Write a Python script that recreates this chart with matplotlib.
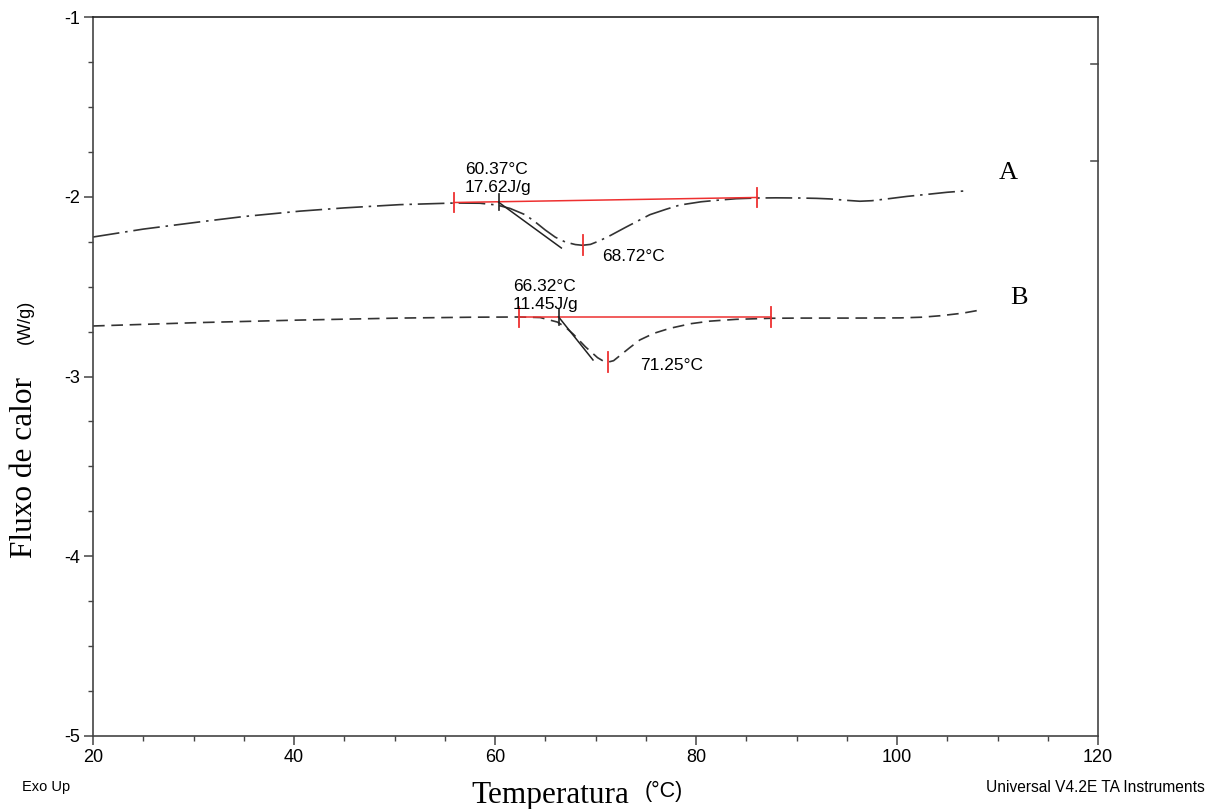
import matplotlib
matplotlib.use("Agg")
import matplotlib.pyplot as plt
from matplotlib.ticker import MultipleLocator

SANS = ["Liberation Sans", "DejaVu Sans"]
SERIF = ["Liberation Serif", "DejaVu Serif"]

# Curve A (dash-dot)
temp_a = [20, 25, 30.6, 35, 40.6, 45, 50.5, 55.9, 58.5, 60.2, 61.5, 63, 64, 65, 66, 67,
          68, 68.7, 69.5, 70.4, 71.5, 73, 74.2, 75.4, 77, 78.4, 80.5, 82.4, 84, 86.1,
          88, 90.3, 92, 93.3, 95, 96.3, 97.5, 99.3, 101, 103.3, 105, 106.9]
flow_a = [-2.224, -2.18, -2.14, -2.11, -2.08, -2.062, -2.044, -2.035, -2.036, -2.046, -2.065, -2.10, -2.14,
          -2.185, -2.225, -2.252, -2.266, -2.27, -2.265, -2.245, -2.215, -2.17, -2.135, -2.10, -2.07,
          -2.046, -2.028, -2.018, -2.011, -2.007, -2.006, -2.007, -2.009, -2.012, -2.02, -2.025,
          -2.022, -2.01, -1.998, -1.985, -1.975, -1.967]

# Curve B (dashed)
temp_b = [20, 30.6, 40.6, 50.5, 58, 62.4, 64.5, 66.2, 67.0, 67.8, 69, 70.2, 70.8, 71.25, 71.8, 72.4,
          73.4, 74.4, 75.8, 77.4, 79.5, 81.4, 84, 87.5, 90.3, 95.3, 100.3, 102.5, 104.3, 106.5, 108.5]
flow_b = [-2.719, -2.70, -2.686, -2.675, -2.670, -2.669, -2.672, -2.697, -2.725, -2.765, -2.835,
          -2.895, -2.915, -2.92, -2.912, -2.885, -2.84, -2.797, -2.76, -2.732, -2.706, -2.692,
          -2.682, -2.676, -2.675, -2.675, -2.674, -2.670, -2.662, -2.648, -2.628]

# Analysis results
onset = [60.37, 66.32]
enthalpy = ["17.62J/g", "11.45J/g"]
peak_t = [68.72, 71.25]
peak_y = [-2.268, -2.918]
base_x = [[55.9, 86.1], [62.4, 87.5]]
base_y = [[-2.032, -2.004], [-2.668, -2.668]]
tangent_x = [[60.37, 66.6], [66.32, 69.75]]
tangent_y = [[-2.031, -2.285], [-2.668, -2.908]]
curve_names = ["A", "B"]

fig = plt.figure(figsize=(12.19, 8.09), dpi=100)
ax = fig.add_axes([93/1219, 1-736/809, (1098-93)/1219, (736-17)/809])

lc = "#333333"
ax.plot(temp_a, flow_a, color=lc, lw=1.2, linestyle=(0, (16, 3.5, 1.5, 3.5)))
ax.plot(temp_b, flow_b, color=lc, lw=1.2, linestyle=(0, (7, 4)))

red = "#ee3030"
tick_h = 0.055
for i in range(2):
    ax.plot(base_x[i], base_y[i], color=red, lw=1.1)
    for bx, by in zip(base_x[i], base_y[i]):
        ax.plot([bx, bx], [by - tick_h, by + tick_h], color=red, lw=1.3)
    ax.plot([peak_t[i], peak_t[i]], [peak_y[i] - tick_h, peak_y[i] + tick_h], color=red, lw=1.3)
    ax.plot(tangent_x[i], tangent_y[i], color="#222222", lw=1.1)
    oy = tangent_y[i][0]
    ax.plot([onset[i], onset[i]], [oy - 0.045, oy + 0.045], color="#222222", lw=1.2)

# annotation texts
fs = 12.5
ax.text(57.0, -1.873, f"{onset[0]:.2f}°C", family=SANS, fontsize=fs, va="baseline", ha="left")
ax.text(57.0, -1.972, enthalpy[0], family=SANS, fontsize=fs, va="baseline", ha="left")
ax.text(70.7, -2.33, f"{peak_t[0]:.2f}°C", family=SANS, fontsize=fs, va="center", ha="left")
ax.text(61.8, -2.522, f"{onset[1]:.2f}°C", family=SANS, fontsize=fs, va="baseline", ha="left")
ax.text(61.8, -2.624, enthalpy[1], family=SANS, fontsize=fs, va="baseline", ha="left")
ax.text(74.4, -2.94, f"{peak_t[1]:.2f}°C", family=SANS, fontsize=fs, va="center", ha="left")

ax.text(110.1, -1.87, curve_names[0], family=SERIF, fontsize=19, va="center", ha="left")
ax.text(111.3, -2.565, curve_names[1], family=SERIF, fontsize=19, va="center", ha="left")

ax.set_xlim(20, 120)
ax.set_ylim(-5, -1)
ax.xaxis.set_major_locator(MultipleLocator(20))
ax.xaxis.set_minor_locator(MultipleLocator(5))
ax.yaxis.set_major_locator(MultipleLocator(1))
ax.yaxis.set_minor_locator(MultipleLocator(0.25))
ax.tick_params(which="major", length=6.5, width=1.1, color="#444444", labelsize=13, pad=3)
ax.tick_params(which="minor", length=3.5, width=1.0, color="#444444")
ax.yaxis.set_major_formatter(matplotlib.ticker.FuncFormatter(lambda v, p: f"{v:.0f}"))
for lab in ax.get_xticklabels() + ax.get_yticklabels():
    lab.set_family(SANS)
for s in ax.spines.values():
    s.set_color("#444444")
    s.set_linewidth(1.2)
ax.spines["top"].set_color("#222222")

# right spine ticks (inward)
for ry in [-1.26, -1.80]:
    ax.plot([119.3, 120], [ry, ry], color="#555555", lw=1.2, clip_on=False)

# axis labels
fig.text(25/1219, 1-467/809, "Fluxo de calor", family=SERIF, fontsize=22.5, rotation=90,
         ha="center", va="center")
fig.text(25/1219, 1-322/809, "(W/g)", family=SANS, fontsize=13, rotation=90,
         ha="center", va="center")
fig.text(550/1219, 1-795/809, "Temperatura", family=SERIF, fontsize=22.5, ha="center", va="center")
fig.text(664/1219, 1-791/809, "(°C)", family=SANS, fontsize=15.5, ha="center", va="center")
fig.text(22/1219, 1-787/809, "Exo Up", family=SANS, fontsize=10.5, ha="left", va="center")
fig.text(1205/1219, 1-787/809, "Universal V4.2E TA Instruments", family=SANS, fontsize=11.2,
         ha="right", va="center")

fig.savefig("out.png", dpi=100)
